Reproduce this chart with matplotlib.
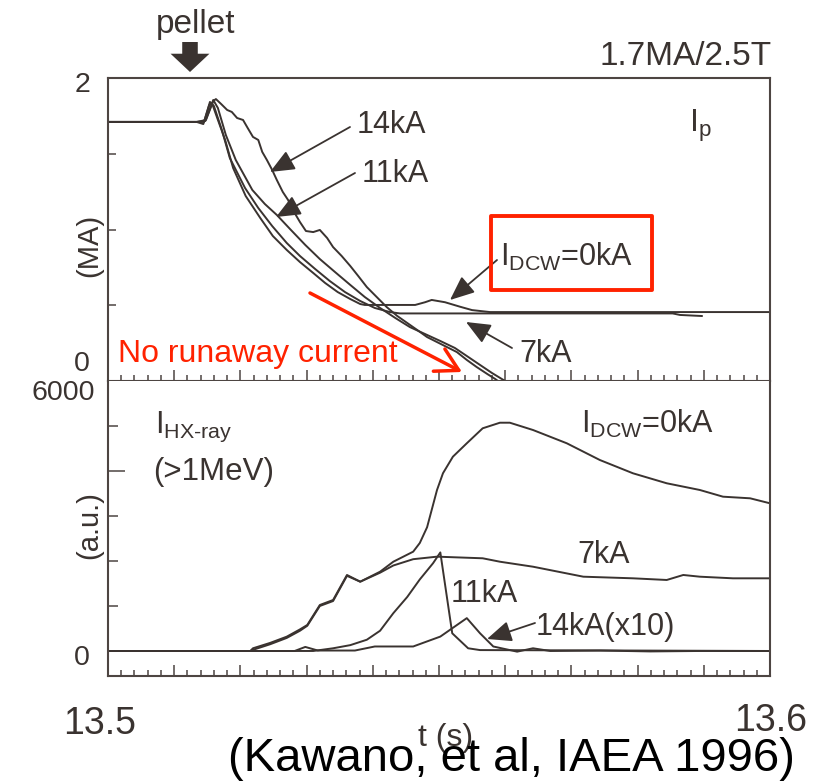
import matplotlib
matplotlib.use("Agg")
import matplotlib.pyplot as plt
from matplotlib.patches import FancyArrowPatch, Rectangle
from matplotlib.ticker import FixedLocator, NullFormatter

plt.rcParams['font.family'] = ['Liberation Sans', 'DejaVu Sans']
plt.rcParams['mathtext.fontset'] = 'custom'
plt.rcParams['mathtext.rm'] = 'Liberation Sans'
plt.rcParams['mathtext.it'] = 'Liberation Sans:italic'
plt.rcParams['mathtext.bf'] = 'Liberation Sans:bold'

# ---------------- data ----------------
# Plasma current Ip (MA) vs time (s)
ip0_t = [13.5, 13.5134, 13.5144, 13.5153, 13.5157, 13.5165, 13.5177, 13.5189, 13.5208, 13.5230,
         13.5249, 13.5270, 13.5290, 13.5310, 13.5328, 13.5347, 13.5366, 13.5381, 13.5388,
         13.5464, 13.5479, 13.5489, 13.5509, 13.5532, 13.5550, 13.5577, 13.6]
ip0_v = [1.71, 1.71, 1.696, 1.822, 1.835, 1.736, 1.59, 1.406, 1.221, 1.076,
         0.957, 0.865, 0.785, 0.713, 0.647, 0.587, 0.541, 0.508, 0.502,
         0.502, 0.52, 0.535, 0.52, 0.49, 0.468, 0.455, 0.455]

ip7_t = [13.5, 13.5134, 13.5145, 13.5154, 13.5160, 13.5172, 13.5184, 13.5207, 13.5227, 13.5248,
         13.5270, 13.5290, 13.5313, 13.5335, 13.5358, 13.5381, 13.5403, 13.5426, 13.5441,
         13.5853, 13.5864, 13.5897]
ip7_v = [1.71, 1.71, 1.71, 1.842, 1.815, 1.657, 1.472, 1.274, 1.142, 1.023,
         0.911, 0.825, 0.739, 0.660, 0.587, 0.528, 0.482, 0.455, 0.446,
         0.446, 0.436, 0.429]

ip11_t = [13.5, 13.5134, 13.5147, 13.5159, 13.5166, 13.5178, 13.5193, 13.5218, 13.5237, 13.5255,
          13.5275, 13.5298, 13.5320, 13.5343, 13.5366, 13.5388, 13.5411, 13.5434, 13.5456,
          13.5479, 13.5502, 13.5524, 13.5542, 13.5562, 13.5580, 13.5595, 13.5600, 13.6]
ip11_v = [1.71, 1.71, 1.716, 1.855, 1.802, 1.624, 1.459, 1.261, 1.168, 1.096,
          1.003, 0.898, 0.805, 0.719, 0.634, 0.554, 0.482, 0.416, 0.356,
          0.310, 0.264, 0.218, 0.165, 0.106, 0.053, 0.013, 0.0, 0.0]

ip14_t = [13.5, 13.5134, 13.5148, 13.5159, 13.5163, 13.5171, 13.5180, 13.5187, 13.5195, 13.5204,
          13.5211, 13.5219, 13.5227, 13.5233, 13.5240, 13.5248, 13.5255, 13.5264, 13.5272,
          13.5281, 13.5290, 13.5299, 13.5310, 13.5320, 13.5331, 13.5340, 13.5353, 13.5366,
          13.5378, 13.5391, 13.5406, 13.5421, 13.5437, 13.5452, 13.5467, 13.5482, 13.5497,
          13.5512, 13.5527, 13.5542, 13.5557, 13.5573, 13.5585, 13.5589, 13.6]
ip14_v = [1.71, 1.71, 1.723, 1.848, 1.861, 1.828, 1.789, 1.776, 1.736, 1.723,
          1.670, 1.611, 1.591, 1.512, 1.459, 1.393, 1.327, 1.248, 1.195,
          1.116, 1.049, 0.990, 0.983, 0.997, 0.944, 0.884, 0.825, 0.759,
          0.693, 0.620, 0.554, 0.488, 0.429, 0.383, 0.337, 0.290, 0.257,
          0.224, 0.191, 0.139, 0.092, 0.046, 0.013, 0.0, 0.0]

# Hard X-ray intensity (a.u.) vs time (s)
hx0_t = [13.5, 13.5215, 13.5219, 13.5245, 13.5270, 13.5290, 13.5301, 13.5320, 13.5340, 13.5361,
         13.5381, 13.5411, 13.5431, 13.5461, 13.5471, 13.5482, 13.5497, 13.5506, 13.5521,
         13.5542, 13.5566, 13.5592, 13.5607, 13.5642, 13.5693, 13.5743, 13.5793, 13.5844,
         13.5894, 13.5929, 13.5970, 13.6]
hx0_v = [0, 0, 60, 180, 318, 480, 578, 1022, 1133, 1689,
         1540, 1762, 1984, 2207, 2400, 2750, 3578, 3950, 4318,
         4616, 4949, 5073, 5073, 4911, 4616, 4244, 3949, 3727,
         3578, 3429, 3393, 3282]

hx7_t = [13.5, 13.5215, 13.5222, 13.5245, 13.5270, 13.5290, 13.5301, 13.5320, 13.5340, 13.5361,
         13.5381, 13.5411, 13.5431, 13.5461, 13.5497, 13.5566, 13.5592, 13.5642, 13.5718,
         13.5793, 13.5844, 13.5869, 13.5894, 13.5944, 13.6]
hx7_v = [0, 0, 40, 150, 290, 450, 560, 1000, 1110, 1670,
         1540, 1740, 1900, 2040, 2096, 2060, 1984, 1873, 1651,
         1615, 1578, 1689, 1651, 1615, 1615]

hx11_t = [13.5, 13.5310, 13.5340, 13.5366, 13.5391, 13.5411, 13.5431, 13.5452, 13.5471, 13.5491,
          13.5502, 13.5520, 13.5544, 13.5562, 13.6]
hx11_v = [0, 0, 60, 130, 250, 450, 840, 1200, 1590, 1950,
          2190, 393, 60, 20, 0]

hx14_t = [13.5, 13.5282, 13.5298, 13.5317, 13.5373, 13.5403, 13.5461, 13.5502, 13.5542, 13.5562,
          13.5582, 13.5618, 13.5642, 13.5668, 13.5743, 13.5819, 13.5894, 13.6]
hx14_v = [0, 0, 90, 10, 10, 100, 100, 320, 730, 393,
          100, -15, 60, 0, 10, -10, 0, 0]

xlim = (13.5, 13.6)
ip_lim = (0, 2)
hx_lim = (-556, 6000)
ip_yticks = [0.5, 1.0, 1.5]
hx_yticks_minor = [0, 1000, 2000, 3000, 5000]
hx_yticks_major = [4000]

# ---------------- figure ----------------
W, H = 814, 782
fig = plt.figure(figsize=(W / 100, H / 100), dpi=100)
fig.patch.set_facecolor('white')

LC = '#3a3330'
SC = '#4d4542'
RED = '#ff2200'


def P(x, y):
    return (x / W, 1 - y / H)


ax1 = fig.add_axes([108 / W, 1 - 381 / H, 662 / W, 303 / H])
ax2 = fig.add_axes([108 / W, 1 - 676 / H, 662 / W, 295 / H])

for t, v in [(ip0_t, ip0_v), (ip7_t, ip7_v), (ip11_t, ip11_v), (ip14_t, ip14_v)]:
    ax1.plot(t, v, color=LC, lw=1.4, clip_on=False, solid_joinstyle='round')
for t, v in [(hx0_t, hx0_v), (hx7_t, hx7_v), (hx11_t, hx11_v), (hx14_t, hx14_v)]:
    ax2.plot(t, v, color=LC, lw=1.4, solid_joinstyle='round')

ax1.set_xlim(*xlim)
ax1.set_ylim(*ip_lim)
ax2.set_xlim(*xlim)
ax2.set_ylim(*hx_lim)

major_x = [13.5 + 0.01 * i for i in range(11)]
minor_x = [13.5 + 0.002 * i for i in range(51)]
for ax in (ax1, ax2):
    for s in ax.spines.values():
        s.set_color(SC)
        s.set_linewidth(1.5)
    ax.xaxis.set_major_locator(FixedLocator(major_x))
    ax.xaxis.set_minor_locator(FixedLocator(minor_x))
    ax.xaxis.set_major_formatter(NullFormatter())
    ax.tick_params(axis='x', which='major', direction='in', length=8, width=1.1,
                   color=SC, bottom=True, top=False)
    ax.tick_params(axis='x', which='minor', direction='in', length=4, width=1.1,
                   color=SC, bottom=True, top=False)
    ax.tick_params(axis='y', which='both', direction='in', width=1.1, color=SC,
                   left=True, right=False, labelleft=False)

ax2.spines['top'].set_visible(False)
ax1.yaxis.set_major_locator(FixedLocator(ip_yticks))
ax1.yaxis.set_minor_locator(FixedLocator([]))
ax1.tick_params(axis='y', which='major', length=6)
ax2.yaxis.set_major_locator(FixedLocator(hx_yticks_major))
ax2.yaxis.set_minor_locator(FixedLocator(hx_yticks_minor))
ax2.tick_params(axis='y', which='major', length=12)
ax2.tick_params(axis='y', which='minor', length=7)


def T(x, y, s, size=21, ha='left', color=LC, **kw):
    fig.text(x / W, 1 - y / H, s, fontsize=size, ha=ha, va='baseline', color=color, **kw)


# tick labels
T(82, 92, '2', 20.5, ha='center')
T(82, 371, '0', 20.5, ha='center')
T(95, 400, '6000', 20.5, ha='right')
T(82, 665, '0', 20.5, ha='center')
T(100, 734, '13.5', 27, ha='center')
T(771, 731, '13.6', 27, ha='center')
T(446, 746, 't (s)', 23, ha='center')
T(511, 771, '(Kawano, et al, IAEA 1996)', 34, ha='center', color='black')
fig.text(P(89, 245)[0], P(89, 245)[1], '(MA)', fontsize=21, rotation=90,
         ha='center', va='center', color=LC)
fig.text(P(89, 525)[0], P(89, 525)[1], '(a.u.)', fontsize=21, rotation=90,
         ha='center', va='center', color=LC)

# top annotations
T(196, 33, 'pellet', 24, ha='center')
T(772, 65, '1.7MA/2.5T', 24, ha='right')
T(689, 132, r'I$_{\text{p}}$', 23)
T(357, 133, '14kA', 22)
T(362, 182, '11kA', 22)
T(519, 362, '7kA', 22)
T(500, 266, r'I$_{\text{DCW}}$=0kA', 22)
T(118, 362, 'No runaway current', 23, color=RED)

# bottom annotations
T(155, 433, r'I$_{\text{HX-ray}}$', 22)
T(153, 480, '(>1MeV)', 22.5)
T(581, 433, r'I$_{\text{DCW}}$=0kA', 22)
T(577, 563, '7kA', 22)
T(451, 602, '11kA', 22)
T(536, 635, '14kA(x10)', 22)


def arrow(tail, tip, **kw):
    a = FancyArrowPatch(P(*tail), P(*tip), transform=fig.transFigure,
                        shrinkA=0, shrinkB=0, **kw)
    fig.add_artist(a)


black_head = dict(arrowstyle='-|>,head_length=0.75,head_width=0.32', mutation_scale=20,
                  lw=1.3, color=LC)
arrow((350, 127), (270, 172), **black_head)
arrow((355, 173), (276, 217), **black_head)
arrow((497, 260), (450, 300), **black_head)
arrow((512, 348), (466, 322), **black_head)
arrow((535, 623), (487, 639), **black_head)

# pellet arrow
arrow((190, 42), (190, 72), arrowstyle='simple,head_length=0.47,head_width=1.0,tail_width=0.4',
      mutation_scale=28, color=LC, lw=0)

# red arrow
arrow((310, 293), (462, 372), arrowstyle='->,head_length=0.8,head_width=0.45',
      mutation_scale=20, lw=2.5, color=RED)

# red box
x0, y0 = P(491, 290)
x1, y1 = P(652, 216)
fig.add_artist(Rectangle((x0, y0), x1 - x0, y1 - y0, transform=fig.transFigure,
                         fill=False, edgecolor=RED, lw=2.8, joinstyle='round'))

fig.savefig('out.png', dpi=100, facecolor='white')
